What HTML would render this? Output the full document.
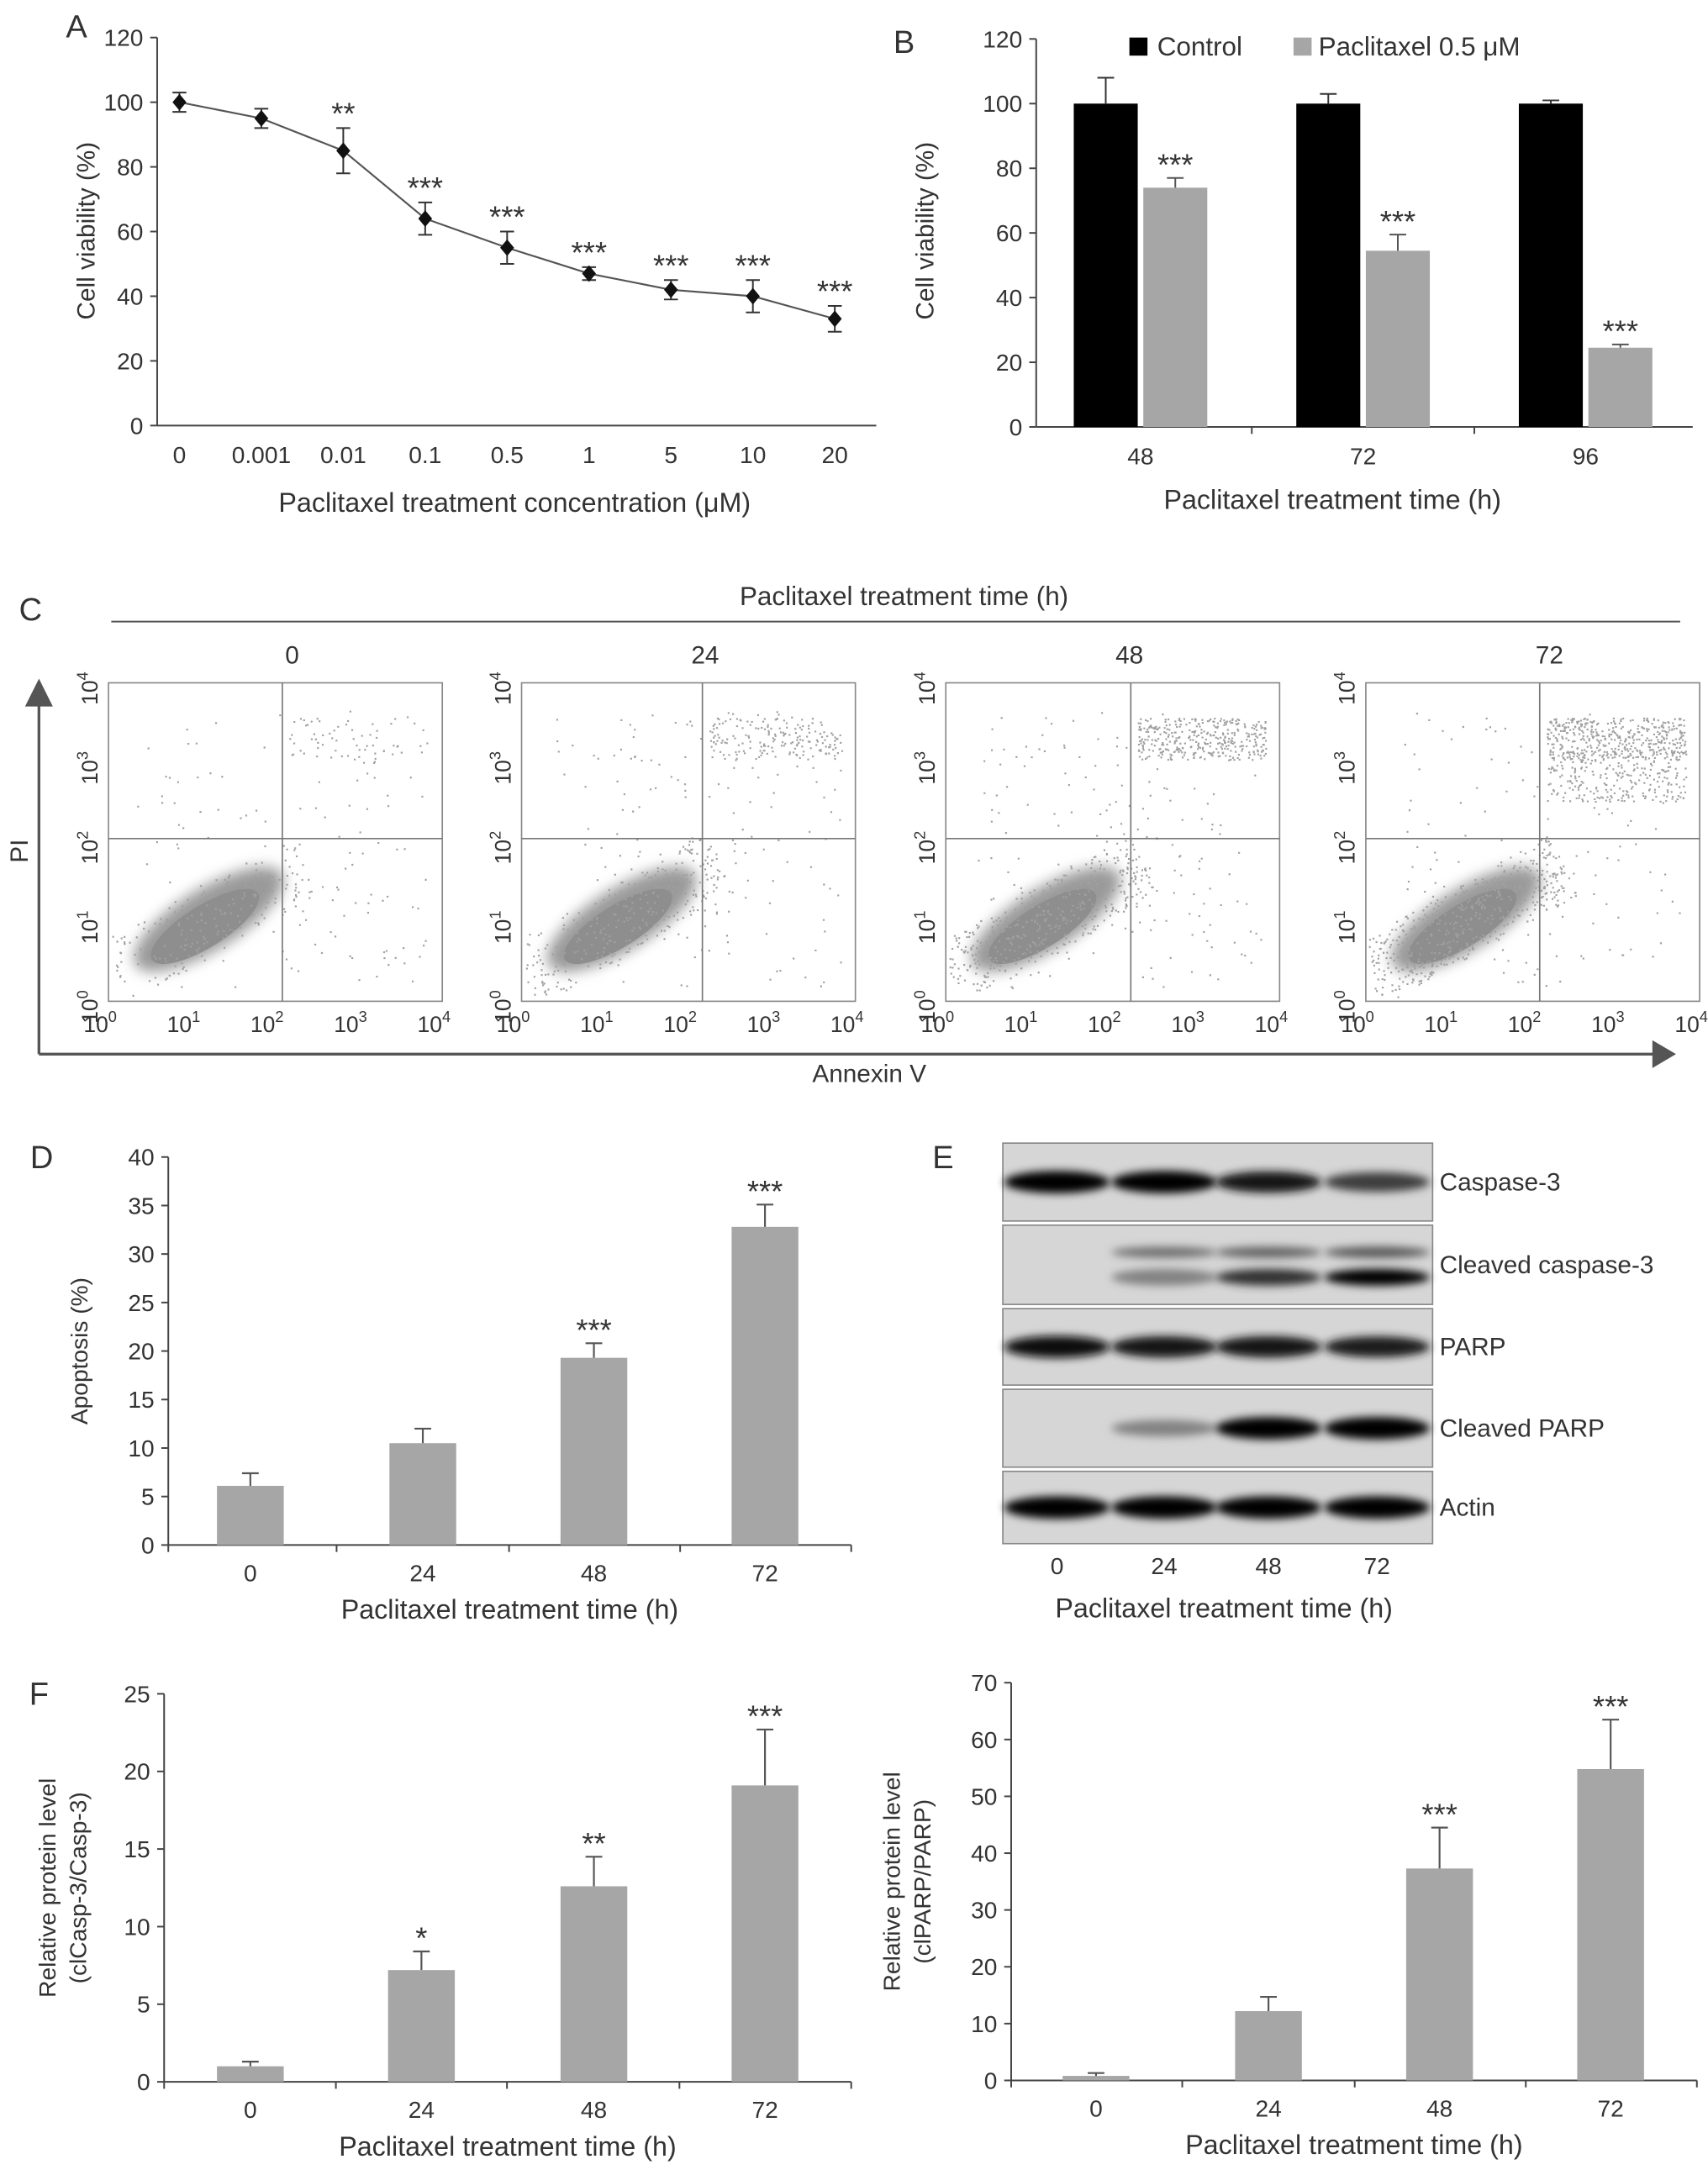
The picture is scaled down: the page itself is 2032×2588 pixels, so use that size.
<!DOCTYPE html>
<html><head><meta charset="utf-8"><style>
html,body{margin:0;padding:0;background:#fff}
svg{display:block;font-family:"Liberation Sans",sans-serif}
</style></head><body>
<svg id="fig" width="2032" height="2588" viewBox="0 0 1228 1564" xmlns="http://www.w3.org/2000/svg">
<defs>
<filter id="blur" x="-20%" y="-100%" width="140%" height="300%"><feGaussianBlur stdDeviation="3"/></filter>
<filter id="blur2" x="-30%" y="-30%" width="160%" height="160%"><feGaussianBlur stdDeviation="5"/></filter>
</defs>
<g id="root"></g>
</svg>
<script>
// Panel A data
const aCats=["0","0.001","0.01","0.1","0.5","1","5","10","20"];
const aVals=[100,95,85,64,55,47,42,40,33];
const aErr=[3,3,7,5,5,2,3,5,4];
const aStars=["","","**","***","***","***","***","***","***"];
const aTicks=[0,20,40,60,80,100,120];
// Panel B data
const bCats=["48","72","96"];
const bCtrl=[100,100,100];
const bCtrlErr=[8,3,1];
const bPac=[74,54.5,24.5];
const bPacErr=[3,5,1];
const bTicks=[0,20,40,60,80,100,120];
// Panel D
const dCats=["0","24","48","72"];
const dVals=[6.1,10.5,19.3,32.8];
const dErr=[1.3,1.5,1.5,2.3];
const dStars=["","","***","***"];
const dTicks=[0,5,10,15,20,25,30,35,40];
// Panel F
const fCats=["0","24","48","72"];
const f1Vals=[1,7.2,12.6,19.1];
const f1Err=[0.3,1.2,1.9,3.6];
const f1Stars=["","*","**","***"];
const f1Ticks=[0,5,10,15,20,25];
const f2Vals=[0.8,12.2,37.3,54.8];
const f2Err=[0.5,2.5,7.2,8.7];
const f2Stars=["","","***","***"];
const f2Ticks=[0,10,20,30,40,50,60,70];
// Panel C time labels
const cTimes=["0","24","48","72"];
// Panel E blot labels and band intensities (0..1) per lane
const eRows=["Caspase-3","Cleaved caspase-3","PARP","Cleaved PARP","Actin"];
const eBand=[[1,1,0.9,0.7],[0,0.45,0.5,0.55],[0.95,0.9,0.9,0.85],[0,0.35,1,1],[1,1,1,1]];
const eBand2=[null,[0,0.35,0.75,1],null,null,null];

const NS="http://www.w3.org/2000/svg";
const root=document.getElementById('root');
function el(tag,attrs,parent,text){const e=document.createElementNS(NS,tag);for(const k in attrs)e.setAttribute(k,attrs[k]);if(text!==undefined)e.textContent=text;(parent||root).appendChild(e);return e;}
function txt(x,y,s,size,parent,anchor,extra){const t=el('text',Object.assign({x:x,y:y,'font-size':size||16,'text-anchor':anchor||'middle',fill:'#333'},extra||{}),parent,s);return t;}
function line(x1,y1,x2,y2,parent,stroke,w){return el('line',{x1,y1,x2,y2,stroke:stroke||'#444','stroke-width':w||1.2},parent);}

function yAxis(g,x,y0,y1,ticks,max){const sy=v=>y0-(v/max)*(y0-y1);
 line(x,y0,x,y1,g);
 ticks.forEach(t=>{const y=sy(t);line(x-5,y,x,y,g);const l=txt(x-10,y+6,String(t),17,g,'end');});
 return sy;}

function barChart(name,ax,y0,y1,xEnd,centers,vals,errs,stars,ticks,max,cats,title,ytitle,ytx){
 const g=el('g',{});
 const sy=yAxis(g,ax,y0,y1,ticks,max);
 line(ax,y0,xEnd,y0,g);
 const step=centers[1]-centers[0];
 centers.forEach((c,i)=>{
  const b=el('rect',{x:c-24,y:sy(vals[i]),width:48,height:y0-sy(vals[i]),fill:'#a6a6a6'},g);
  
  const ye=sy(vals[i]+errs[i]);line(c,sy(vals[i]),c,ye,g,'#555',1.3);line(c-6,ye,c+6,ye,g,'#555',1.3);
  if(stars[i]){const s=txt(c,ye-2,stars[i],22,g,'middle');}
  const l=txt(c,y0+26,cats[i],17,g);
  if(i<centers.length-1){line(c+step/2,y0,c+step/2,y0+5,g);}
 });
 line(ax,y0,ax,y0+5,g);line(xEnd,y0,xEnd,y0+5,g);
 const t=txt((ax+xEnd)/2,y0+53,title,19.5,g);
 const yt=el('text',{x:0,y:0,'font-size':17,'text-anchor':'middle',fill:'#333',transform:`translate(${ytx[0]},${(y0+y1)/2}) rotate(-90)`},g);
 
 ytitle.forEach((s,k)=>{el('tspan',{x:0,dy:k?22:0},yt,s);});
}

// letters
[["A",55,27],["B",650,38],["C",22,446],["D",30,840],["E",678,840],["F",28,1226]].forEach(p=>{const t=txt(p[1],p[2],p[0],23,root,'middle');});

// Panel A
(function(){const g=el('g',{});
 const ax=113,y0=306,y1=27;const sy=yAxis(g,ax,y0,y1,aTicks,120);
 line(ax,y0,630,y0,g);
 const sx=i=>129+i*58.9;
 let d='';aVals.forEach((v,i)=>{d+=(i?'L':'M')+sx(i)+','+sy(v);});
 const p=el('path',{d:d,fill:'none',stroke:'#555','stroke-width':1.3},g);
 aVals.forEach((v,i)=>{const x=sx(i),y=sy(v);
  line(x,sy(v-aErr[i]),x,sy(v+aErr[i]),g,'#333',1.2);line(x-5,sy(v-aErr[i]),x+5,sy(v-aErr[i]),g,'#333');line(x-5,sy(v+aErr[i]),x+5,sy(v+aErr[i]),g,'#333');
  const m=el('path',{d:`M${x},${y-6}L${x+5},${y}L${x},${y+6}L${x-5},${y}Z`,fill:'#111'},g);
  if(aStars[i]){const s=txt(x,sy(v+aErr[i])-3,aStars[i],22,g);}
  const l=txt(x,y0+27,aCats[i],17,g);
 });
 const t=txt(370,368,'Paclitaxel treatment concentration (μM)',19.5,g);
 const yt=txt(0,0,'Cell viability (%)',18,g,'middle',{transform:'translate(68,166) rotate(-90)'});
})();

// Panel B
(function(){const g=el('g',{});
 const ax=745,y0=307,y1=28;const sy=yAxis(g,ax,y0,y1,bTicks,120);
 line(ax,y0,1217,y0,g);
 const cx=i=>820+i*160;
 bCats.forEach((c,i)=>{const x=cx(i);
  const r1=el('rect',{x:x-48,y:sy(bCtrl[i]),width:46,height:y0-sy(bCtrl[i]),fill:'#000'},g);
  let ye=sy(bCtrl[i]+bCtrlErr[i]);line(x-25,sy(bCtrl[i]),x-25,ye,g,'#333');line(x-31,ye,x-19,ye,g,'#333');
  const r2=el('rect',{x:x+2,y:sy(bPac[i]),width:46,height:y0-sy(bPac[i]),fill:'#a6a6a6'},g);
  ye=sy(bPac[i]+bPacErr[i]);line(x+25,sy(bPac[i]),x+25,ye,g,'#555');line(x+19,ye,x+31,ye,g,'#555');
  const s=txt(x+25,ye-2,'***',22,g);
  const l=txt(x,y0+27,c,17,g);
  if(i<2)line(x+80,y0,x+80,y0+5,g);
 });
 const t=txt(958,366,'Paclitaxel treatment time (h)',19.5,g);
 const yt=txt(0,0,'Cell viability (%)',18,g,'middle',{transform:'translate(671,166) rotate(-90)'});
 const lg=el('g',{},g);
 el('rect',{x:812,y:27,width:13,height:13,fill:'#000'},lg);txt(832,40,'Control',19,lg,'start');
 el('rect',{x:930,y:27,width:13,height:13,fill:'#a6a6a6'},lg);txt(948,40,'Paclitaxel 0.5 μM',19,lg,'start');
})();

// Panel C
(function(){const g=el('g',{});
 const t=txt(650,435,'Paclitaxel treatment time (h)',19,g);
 line(80,447,1208,447,g,'#555');
 line(28,758,28,505,g,'#555',2);el('path',{d:'M18,508L28,488L38,508Z',fill:'#555'},g);
 line(28,758,1190,758,g,'#555',2);el('path',{d:'M1188,748L1205,758L1188,768Z',fill:'#555'},g);
 const ax=txt(625,778,'Annexin V',18,g);
 const pi=txt(0,0,'PI',18,g,'middle',{transform:'translate(20,612) rotate(-90)'});
 const lefts=[78,375,680,982],W=240,top=491,H=229;
 let seed=7;const rnd=()=>{seed=(seed*16807)%2147483647;return seed/2147483647;};
 lefts.forEach((L,k)=>{const pg=el('g',{},g);
  el('rect',{x:L,y:top,width:W,height:H,fill:'#fff',stroke:'#888','stroke-width':1},pg);
  const lb=txt(L+W*0.55,477,cTimes[k],18,pg);
  const vx=L+133+(k===1?-3:k===2?0:-8),hy=603;
  const cx=L+72,cy=top+170;
  el('ellipse',{cx:cx,cy:cy,rx:62,ry:22,fill:'#9a9a9a',transform:`rotate(-32 ${cx} ${cy})`,filter:'url(#blur2)'},pg);
  el('ellipse',{cx:cx-5,cy:cy+3,rx:45,ry:15,fill:'#8e8e8e',transform:`rotate(-32 ${cx} ${cy})`},pg);
  let dots='';const n=[500,800,1100,1500][k];
  for(let i=0;i<n;i++){let x,y;const r=rnd();
   if(r<0.35){const u=rnd()*2-1,v=rnd()*2-1;x=cx+u*70+v*10;y=cy-u*40+v*22;}
   else if(r<0.35+0.11*(k+1)){x=vx+5+rnd()*(L+W-vx-15);y=top+25+rnd()*30+(k===3&&rnd()<0.3?30:0);}
   else{x=L+20+rnd()*(W-30);y=top+20+rnd()*(H-30);if(rnd()<0.5)continue;}
   if(x<L+2||x>L+W-2||y<top+2||y>top+H-2)continue;
   dots+=`M${x.toFixed(1)},${y.toFixed(1)}h1.3v1.3h-1.3z`;}
  el('path',{d:dots,fill:'#a0a0a0'},pg);
  line(vx,top,vx,top+H,pg,'#777',1);line(L,hy,L+W,hy,pg,'#777',1);
  for(let d=0;d<=4;d++){const x=L+d*W/4;const tl=el('text',{x:x-6,y:742,'font-size':16,'text-anchor':'middle',fill:'#333'},pg);el('tspan',{},tl,'10');el('tspan',{dy:-7,'font-size':11},tl,String(d));
   const y=top+H-d*H/4;const yl=el('text',{x:0,y:0,'font-size':16,'text-anchor':'middle',fill:'#333',transform:`translate(${L-8},${y+4}) rotate(-90)`},pg);el('tspan',{},yl,'10');el('tspan',{dy:-7,'font-size':11},yl,String(d));}
 });
})();

// Panel D
barChart('panel-d-bar-chart',121,1111,832,612,[180,304,427,550],dVals,dErr,dStars,dTicks,40,dCats,'Paclitaxel treatment time (h)',['Apoptosis (%)'],[63]);

// Panel E
(function(){const g=el('g',{});
 const rows=[[822,878],[881,938],[941,996],[999,1055],[1058,1110]];const lanes=[760,837,912,990];
 rows.forEach((r,i)=>{const rg=el('g',{},g);
  el('rect',{x:721,y:r[0],width:309,height:r[1]-r[0],fill:'#d6d6d6',stroke:'#888','stroke-width':1},rg);
  const mid=(r[0]+r[1])/2;
  lanes.forEach((lx,j)=>{const v=eBand[i][j];if(v>0){const gray=Math.round(200*(1-v));
    const by=i===1?mid-9:mid;
    el('ellipse',{cx:lx,cy:by,rx:38,ry:(i===1?5:8)*(0.6+0.4*v),fill:`rgb(${gray},${gray},${gray})`,filter:'url(#blur)'},rg);}
   if(eBand2[i]){const v2=eBand2[i][j];if(v2>0){const gr=Math.round(200*(1-v2));el('ellipse',{cx:lx,cy:mid+9,rx:38,ry:6,fill:`rgb(${gr},${gr},${gr})`,filter:'url(#blur)'},rg);}}
  });
  const l=txt(1035,mid+6,eRows[i],18,rg,'start');
 });
 lanes.forEach((lx,j)=>{const l=txt(lx,1132,cTimes[j],17,g);});
 const t=txt(880,1163,'Paclitaxel treatment time (h)',19.5,g);
})();

// Panel F
barChart('panel-f-left-bar-chart',118,1497,1218,612,[180,303,427,550],f1Vals,f1Err,f1Stars,f1Ticks,25,fCats,'Paclitaxel treatment time (h)',['Relative protein level','(clCasp-3/Casp-3)'],[40]);
barChart('panel-f-right-bar-chart',727,1496,1210,1220,[788,912,1035,1158],f2Vals,f2Err,f2Stars,f2Ticks,70,fCats,'Paclitaxel treatment time (h)',['Relative protein level','(clPARP/PARP)'],[647]);
</script>
</body></html>
